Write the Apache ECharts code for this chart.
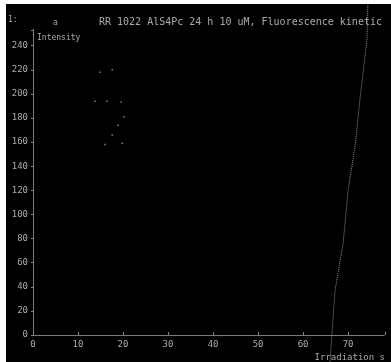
<!DOCTYPE html>
<html>
<head>
<meta charset="utf-8">
<script src="https://cdn.jsdelivr.net/npm/echarts@6/dist/echarts.min.js"></script>
<style>
  html, body { margin: 0; padding: 0; background: #fff; }
  #chart { position: absolute; left: 6px; top: 4px; width: 385px; height: 358px; background: #000; }
</style>
</head>
<body>
<div id="chart"></div>
<script>
// kinetic trace (irradiation time s, intensity)
const kineticTrace = [
	[66.0, -22], [66.4, 0], [67.1, 37], [68.9, 76], [70.0, 120],
	[71.6, 158], [72.7, 198], [74.2, 245], [74.4, 275]
];
// scattered early points
const earlyPoints = [
	[17.6, 220], [14.9, 218], [16.4, 194], [13.8, 194], [19.6, 193],
	[20.2, 181], [18.9, 174], [17.6, 166], [16.0, 158], [19.8, 159]
];
const xTicks = [0, 10, 20, 30, 40, 50, 60, 70];
const yTicks = [0, 20, 40, 60, 80, 100, 120, 140, 160, 180, 200, 220, 240];

const font = "DejaVu Sans Mono";
const ink = "#ababab";
const dotted = { color: "#858585", type: "dotted", width: 1 };

const chart = echarts.init(document.getElementById("chart"));
chart.setOption({
	backgroundColor: "#000",
	animation: false,
	textStyle: { fontFamily: font, color: ink },
	title: {
		text: "RR 1022 AlS4Pc 24 h 10 uM, Fluorescence kinetic",
		left: 88,
		top: 8,
		textStyle: { fontFamily: font, fontSize: 10, fontWeight: "normal", color: ink }
	},
	graphic: [
		{ type: "text", left: 2, top: 12, style: { text: "1:", fill: ink, font: "8px " + font } },
		{ type: "text", left: 47, top: 15, style: { text: "a", fill: ink, font: "8px " + font } }
	],
	grid: { left: 27, right: 6, top: 26, bottom: 27 },
	xAxis: [{
		type: "value",
		min: 0,
		max: 78.2,
		interval: 10,
		name: "Irradiation s",
		nameLocation: "end",
		nameGap: 0,
		nameTextStyle: { fontFamily: font, fontSize: 9, color: ink, align: "right", verticalAlign: "top", padding: [18, 0, 0, 0] },
		axisLine: { lineStyle: dotted },
		axisTick: { length: 3, inside: true, lineStyle: { color: "#858585" } },
		axisLabel: {
			fontFamily: font, fontSize: 9, color: ink, margin: 5,
			customValues: xTicks, formatter: v => String(v)
		},
		splitLine: { show: false }
	}, {
		type: "value", position: "top", min: 0, max: 78.2,
		axisLine: { show: true, lineStyle: dotted },
		axisTick: { show: false }, axisLabel: { show: false }, splitLine: { show: false }
	}],
	yAxis: [{
		type: "value",
		min: 0,
		max: 253,
		interval: 20,
		name: "Intensity",
		nameLocation: "end",
		nameGap: 0,
		nameTextStyle: { fontFamily: font, fontSize: 8, color: ink, align: "left", verticalAlign: "top", padding: [4, 0, 0, 4] },
		axisLine: { show: true, lineStyle: dotted },
		axisTick: { show: true, length: 2, lineStyle: { color: "#858585" } },
		axisLabel: {
			fontFamily: font, fontSize: 9, color: ink, margin: 5,
			customValues: yTicks, formatter: v => String(v)
		},
		splitLine: { show: false }
	}, {
		type: "value", position: "right", min: 0, max: 253,
		axisLine: { show: true, lineStyle: dotted },
		axisTick: { show: false }, axisLabel: { show: false }, splitLine: { show: false }
	}],
	series: [
		{
			type: "line",
			data: kineticTrace,
			clip: false,
			showSymbol: false,
			lineStyle: { color: "#909090", width: 1, type: "dotted" }
		},
		{
			type: "scatter",
			data: earlyPoints,
			symbol: "rect",
			symbolSize: 1.5,
			itemStyle: { color: "#a0a0a0" }
		}
	]
});
</script>
</body>
</html>
